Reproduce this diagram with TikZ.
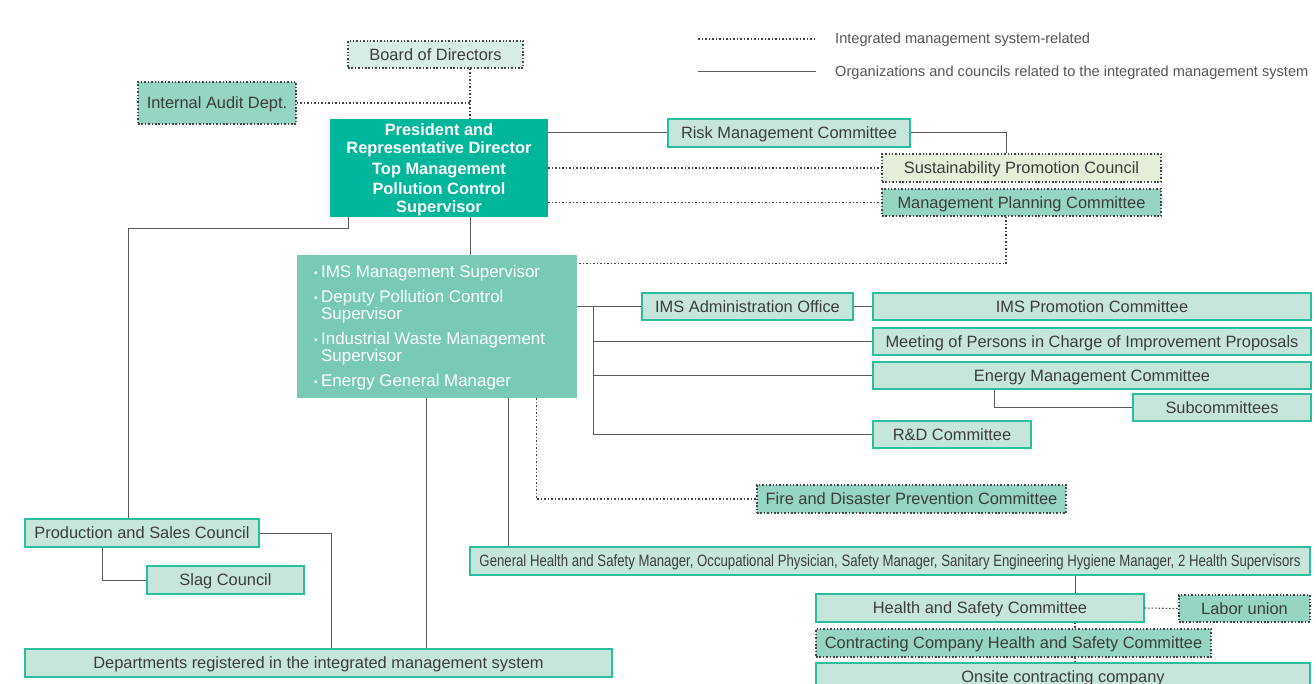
\documentclass[tikz,border=0pt]{standalone}
\usepackage{fontspec}
\setmainfont{Liberation Sans}
\usepackage{graphicx}
\definecolor{presc}{RGB}{0,182,155}
\definecolor{imsc}{RGB}{120,202,182}
\definecolor{boxc}{RGB}{198,230,220}
\definecolor{boxline}{RGB}{40,190,158}
\definecolor{dotc}{RGB}{150,212,196}
\definecolor{boardc}{RGB}{217,237,231}
\definecolor{sustc}{RGB}{228,238,216}
\definecolor{linec}{RGB}{90,90,90}
\definecolor{dlinec}{RGB}{70,70,70}
\definecolor{txtc}{RGB}{60,60,60}
\definecolor{legc}{RGB}{85,85,85}
\tikzset{
  every node/.style={font=\fontsize{16.4}{19}\selectfont, text=txtc, inner sep=0pt},
  boxtext/.style={text height=11.8pt, text depth=0pt},
  sbox/.style={boxtext, draw=boxline, line width=1.2pt, fill=boxc, minimum width=#1},
  dbox/.style={boxtext, draw=dlinec, line width=1.2pt, dash pattern=on 1.5pt off 1.9pt, minimum width=#1},
  conn/.style={draw=linec, line width=1pt},
  dconn/.style={draw=dlinec, line width=1.1pt, dash pattern=on 1.5pt off 2pt},
}
\newcommand{\blt}{\makebox[7pt][l]{\raisebox{1pt}{\fontsize{10}{10}\selectfont\textbullet}}}
\begin{document}
\begin{tikzpicture}[x=1pt,y=-1pt]
\useasboundingbox (0,0) rectangle (1316,684);
\clip (0,0) rectangle (1316,684);
\fill[white] (0,0) rectangle (1316,684);

% legend
\coordinate (l1a) at (698,39);
\coordinate (l1b) at (816,39);
\coordinate (l2a) at (698,72);
\coordinate (l2b) at (816,72);
\draw[dconn] (l1a) -- (l1b);
\draw[conn] (l2a) -- (l2b);
\node[anchor=west, text=legc, font=\fontsize{14.6}{17}\selectfont] (leg1) at (835,39.5) {Integrated management system-related};
\node[anchor=west, text=legc, font=\fontsize{14.6}{17}\selectfont] (leg2) at (835,72.5) {Organizations and councils related to the integrated management system};

% nodes
\node[dbox=175pt, fill=boardc, minimum height=27pt] (board) at (435.5,54.5) {Board of Directors};
\node[dbox=158pt, fill=dotc, minimum height=42pt] (audit) at (217,103) {Internal Audit Dept.};
\node[fill=presc, minimum width=218pt, minimum height=98pt] (pres) at (439,168) {};
\node[align=center, text=white, font=\bfseries\fontsize{16.4}{18}\selectfont] (prest) at (439,170)
  {President and\\Representative Director\\[2.5pt]Top Management\\[2.5pt]Pollution Control\\Supervisor};
\node[sbox=242pt, minimum height=28pt] (risk) at (789,133) {Risk Management Committee};
\node[dbox=279pt, fill=sustc, minimum height=28pt] (sust) at (1021.5,168) {Sustainability Promotion Council};
\node[dbox=279pt, fill=dotc, minimum height=27pt] (mpc) at (1021.5,202.5) {Management Planning Committee};
\node[fill=imsc, minimum width=280pt, minimum height=143pt] (ims) at (437,326.5) {};
\node[anchor=west, align=left, text=white, font=\fontsize{16.9}{17.3}\selectfont] (imst) at (314,327.5)
  {\blt IMS Management Supervisor\\[7.3pt]
   \blt Deputy Pollution Control\\\hspace*{7pt}Supervisor\\[7.3pt]
   \blt Industrial Waste Management\\\hspace*{7pt}Supervisor\\[7.3pt]
   \blt Energy General Manager};
\node[sbox=211pt, minimum height=27pt] (admin) at (747.5,306.5) {IMS Administration Office};
\node[sbox=438pt, minimum height=27pt] (promo) at (1092,306.5) {IMS Promotion Committee};
\node[sbox=438pt, minimum height=27pt] (meet) at (1092,341.5) {Meeting of Persons in Charge of Improvement Proposals};
\node[sbox=438pt, minimum height=27pt] (energy) at (1092,375.5) {Energy Management Committee};
\node[sbox=178pt, minimum height=27pt] (sub) at (1222,407.5) {Subcommittees};
\node[sbox=158pt, minimum height=27pt] (rd) at (952,434.5) {R\&D Committee};
\node[dbox=309pt, fill=dotc, minimum height=28pt] (fire) at (911.5,499) {Fire and Disaster Prevention Committee};
\node[sbox=234pt, minimum height=28pt] (prod) at (142,533) {Production and Sales Council};
\node[sbox=157pt, minimum height=28pt] (slag) at (225.5,580) {Slag Council};
\node[sbox=840pt, minimum height=28pt] (general) at (890,561)
  {\resizebox{821pt}{\height}{General Health and Safety Manager, Occupational Physician, Safety Manager, Sanitary Engineering Hygiene Manager, 2 Health Supervisors}};
\node[sbox=587pt, minimum height=28pt] (dept) at (318.5,663) {Departments registered in the integrated management system};
\node[sbox=328pt, minimum height=28pt] (hs) at (980,608) {Health and Safety Committee};
\node[dbox=131pt, fill=dotc, minimum height=27pt] (labor) at (1244.5,608.5) {Labor union};
\node[dbox=395pt, fill=dotc, minimum height=28pt] (contr) at (1013.5,643) {Contracting Company Health and Safety Committee};
\node[sbox=494pt, minimum height=28pt] (onsite) at (1063,677) {Onsite contracting company};

% helper coordinates
\coordinate (spine) at (470,0);
\coordinate (rx) at (1006,0);
\coordinate (bus) at (593,0);

% connectors
\draw[dconn] (spine |- board.south) -- (spine |- pres.north);
\draw[dconn] (audit.east) -- (audit.east -| spine);
\draw[conn] (risk.west -| pres.east) -- (risk.west);
\draw[conn] (risk.east) -| (rx |- sust.north);
\draw[dconn] (sust.west -| pres.east) -- (sust.west);
\draw[dconn] (mpc.west -| pres.east) -- (mpc.west);
\draw[dconn] (rx |- mpc.south) |- ([yshift=-9pt]ims.north east);
\draw[conn] (pres.south -| 348.5,0) |- (128,229) -- (prod.north -| 128,0);
\draw[conn] (spine |- pres.south) -- (spine |- ims.north);
\draw[conn] (ims.east |- admin.west) -- (admin.west);
\draw[conn] (admin.east) -- (promo.west);
\draw[conn] (bus |- admin.west) -- (bus |- rd.west);
\draw[conn] (bus |- meet.west) -- (meet.west);
\draw[conn] (bus |- energy.west) -- (energy.west);
\draw[conn] (bus |- rd.west) -- (rd.west);
\draw[conn] (energy.south -| 994,0) |- (sub.west);
\draw[dconn] (ims.south -| 536.5,0) |- (fire.west);
\draw[conn] (ims.south -| 508,0) -- (general.north -| 508,0);
\draw[conn] (ims.south -| 426,0) -- (dept.north -| 426,0);
\draw[conn] (prod.east) -| (dept.north -| 331,0);
\draw[conn] (prod.south -| 102.5,0) |- (slag.west);
\draw[conn] (general.south -| 1075,0) -- (hs.north -| 1075,0);
\draw[dconn] (hs.east) -- (labor.west);
\draw[dconn] (hs.south -| 1075,0) -- (contr.north -| 1075,0);
\draw[dconn] (contr.south -| 1075,0) -- (onsite.north -| 1075,0);
\end{tikzpicture}
\end{document}
